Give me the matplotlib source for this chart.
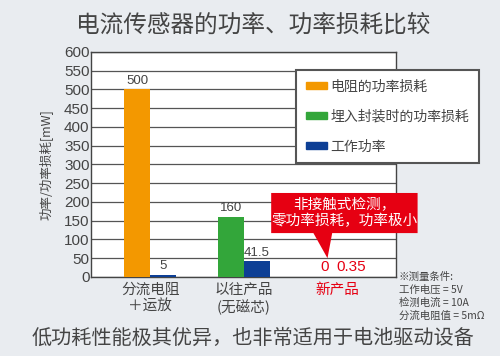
import numpy as np
import matplotlib.pyplot as plt
from matplotlib.patches import Polygon, Rectangle

plt.rcParams["font.family"] = ["Noto Sans CJK SC", "DejaVu Sans"]

TITLE = "电流传感器的功率、功率损耗比较"
FOOTER = "低功耗性能极其优异，也非常适用于电池驱动设备"
CATEGORIES = ["分流电阻\n＋运放", "以往产品\n(无磁芯)", "新产品"]
LOSS = [500, 160, 0]          # left bar in each group
WORK = [5, 41.5, 0.35]        # right bar: 工作功率
LOSS_LABELS = ["500", "160", "0"]
WORK_LABELS = ["5", "41.5", "0.35"]
LEGEND = ["电阻的功率损耗", "埋入封装时的功率损耗", "工作功率"]
YTICKS = list(range(0, 601, 50))
NOTE = "※测量条件:\n工作电压 = 5V\n检测电流 = 10A\n分流电阻值 = 5mΩ"
CALLOUT = "非接触式检测，\n零功率损耗，功率极小"

BG = "#e9ecf0"
ORANGE = "#f39800"
GREEN = "#33a63a"
BLUE = "#0d3f95"
RED = "#e60012"
TXT = "#444444"

fig = plt.figure(figsize=(5.0, 3.56), dpi=100, facecolor=BG)
ax = fig.add_axes([0.182, 0.222, 0.61, 0.632])
ax.set_facecolor("white")

x = np.arange(len(CATEGORIES))
w = 0.28
colors_loss = [ORANGE, GREEN, GREEN]
ax.bar(x - w / 2, LOSS, w, color=colors_loss, zorder=3)
ax.bar(x + w / 2, WORK, w, color=BLUE, zorder=3)

for i in range(len(x)):
    red = i == 2
    c = RED if red else TXT
    fs = 11 if red else 9.5
    ax.annotate(LOSS_LABELS[i], (x[i] - w / 2, LOSS[i]), xytext=(0, 2),
                textcoords="offset points", ha="center", va="bottom",
                fontsize=fs, color=c, family="Liberation Sans")
    ax.annotate(WORK_LABELS[i], (x[i] + w / 2, WORK[i]), xytext=(0, 2),
                textcoords="offset points", ha="center", va="bottom",
                fontsize=fs, color=c, family="Liberation Sans")

ax.set_xlim(-0.63, 2.62)
ax.set_ylim(0, 600)
ax.set_yticks(YTICKS)
ax.set_yticklabels([str(t) for t in YTICKS], family="Liberation Sans",
                   fontsize=11, color=TXT)
ax.set_xticks(x)
ax.set_xticklabels(CATEGORIES, fontsize=10.5, color=TXT, linespacing=1.25)
ax.get_xticklabels()[2].set_color(RED)
ax.tick_params(axis="x", length=0, pad=4)
ax.tick_params(axis="y", length=0, pad=1)
ax.yaxis.grid(True, color="#555555", lw=0.9, zorder=1)
for s in ax.spines.values():
    s.set_color("#444444")
    s.set_linewidth(1.0)
ax.set_ylabel("功率/功率损耗[mW]", fontsize=9, color=TXT, labelpad=8)

handles = [Rectangle((0, 0), 1, 1, color=c) for c in (ORANGE, GREEN, BLUE)]
leg = fig.legend(handles, LEGEND, loc="upper left",
                 bbox_to_anchor=(0.578, 0.823), fontsize=10,
                 handlelength=1.5, handleheight=0.45, handletextpad=0.3,
                 labelspacing=1.15, borderpad=0.7, fancybox=False,
                 framealpha=1, edgecolor="#555555", labelcolor=TXT)
leg.get_frame().set_linewidth(1.5)

# red callout
box = Polygon([(1.29, 224), (2.85, 224), (2.85, 117), (1.94, 117),
               (1.89, 50), (1.74, 117), (1.29, 117)],
              closed=True, facecolor=RED, edgecolor="none",
              clip_on=False, zorder=5)
ax.add_patch(box)
ax.text(2.07, 170, CALLOUT, ha="center", va="center", color="white",
        fontsize=10.5, linespacing=1.1, zorder=6)

fig.text(0.506, 0.93, TITLE, ha="center", va="center", fontsize=17, color=TXT)
fig.text(0.505, 0.05, FOOTER, ha="center", va="center", fontsize=14.5, color=TXT)
fig.text(0.798, 0.235, NOTE, ha="left", va="top", fontsize=7.5,
         color=TXT, linespacing=1.3)

fig.savefig("out.png", dpi=100, facecolor=BG)
